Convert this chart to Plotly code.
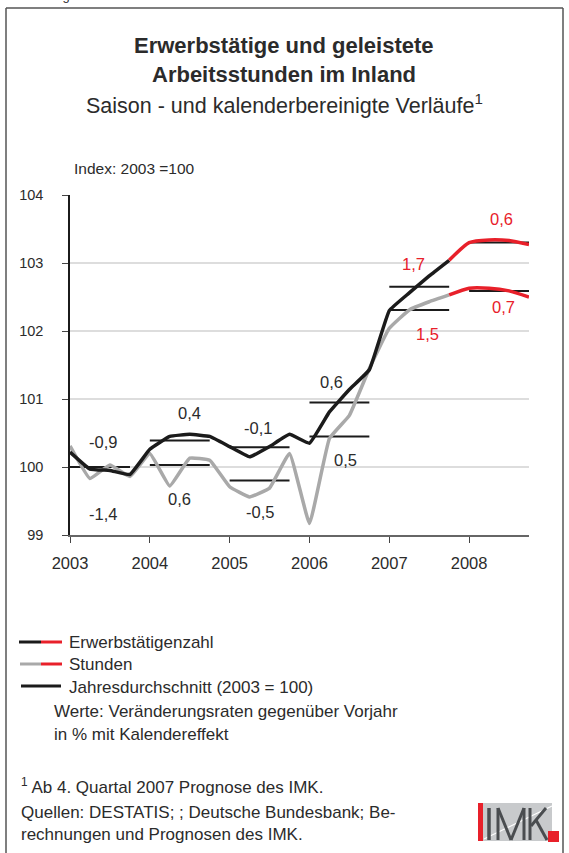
import plotly.graph_objects as go

# ---------------- data ----------------
quarters = ["2003Q1", "2003Q2", "2003Q3", "2003Q4",
            "2004Q1", "2004Q2", "2004Q3", "2004Q4",
            "2005Q1", "2005Q2", "2005Q3", "2005Q4",
            "2006Q1", "2006Q2", "2006Q3", "2006Q4",
            "2007Q1", "2007Q2", "2007Q3", "2007Q4",
            "2008Q1", "2008Q2", "2008Q3", "2008Q4"]
erwerbstaetige = [100.22, 99.97, 99.95, 99.89,
                  100.26, 100.45, 100.48, 100.45,
                  100.30, 100.15, 100.30, 100.48,
                  100.35, 100.81, 101.14, 101.43,
                  102.30, 102.56, 102.81, 103.04,
                  103.30, 103.34, 103.33, 103.27]
stunden = [100.31, 99.83, 100.03, 99.86,
           100.20, 99.72, 100.13, 100.10,
           99.71, 99.56, 99.69, 100.20,
           99.17, 100.42, 100.76, 101.45,
           102.04, 102.31, 102.43, 102.53,
           102.63, 102.63, 102.59, 102.50]
years = [2003, 2004, 2005, 2006, 2007, 2008]
avg_erwerbstaetige = [100.0, 100.39, 100.29, 100.95, 102.65, 103.30]
avg_stunden = [100.0, 100.03, 99.80, 100.45, 102.31, 102.59]
rate_erwerbstaetige = ["-0,9", "0,4", "-0,1", "0,6", "1,7", "0,6"]
rate_stunden = ["-1,4", "0,6", "-0,5", "0,5", "1,5", "0,7"]
forecast_start = "2007Q4"
y_ticks = [99, 100, 101, 102, 103, 104]

# ---------------- styling / layout ----------------
BLACK = "#1b1b1b"
GRAY = "#a9a9a9"
RED = "#e8202a"
TXT = "#2b2b2b"
FONT = "Liberation Sans, Arial, sans-serif"

W, H = 569, 853
PL, PR, PT, PB = 70, 529, 195, 535  # plot area in pixels


def qx(q):
    return int(q[:4]) + (int(q[-1]) - 1) * 0.25


def px(x):
    return (x - PL) / (PR - PL)


def py(y):
    return (PB - y) / (PB - PT)


xs = [qx(q) for q in quarters]
fi = quarters.index(forecast_start)

fig = go.Figure()

# annual averages
for yr, a, b in zip(years, avg_erwerbstaetige, avg_stunden):
    for v in (a, b):
        fig.add_trace(go.Scatter(x=[yr, yr + 0.75], y=[v, v], mode="lines",
                                 line=dict(color=BLACK, width=2),
                                 showlegend=False, hoverinfo="skip", cliponaxis=False))

# series
for vals, col in ((stunden, GRAY), (erwerbstaetige, BLACK)):
    fig.add_trace(go.Scatter(x=xs[:fi + 1], y=vals[:fi + 1], mode="lines",
                             line=dict(color=col, width=3.5, shape="spline", smoothing=0.3),
                             showlegend=False, cliponaxis=False))
    fig.add_trace(go.Scatter(x=xs[fi:], y=vals[fi:], mode="lines",
                             line=dict(color=RED, width=3.5, shape="spline", smoothing=0.6),
                             showlegend=False, cliponaxis=False))

# rate labels (positions relative to each year)
emp_pos = [(0.41, 100.37), (0.5, 100.80), (0.35, 100.57), (0.27, 101.25), (0.30, 102.99), (0.40, 103.64)]
hrs_pos = [(0.41, 99.31), (0.375, 99.53), (0.38, 99.34), (0.45, 100.10), (0.48, 101.96), (0.43, 102.35)]
annotations = []
for i, yr in enumerate(years):
    col = RED if yr >= 2007 else TXT
    for txt, (dx, yv) in ((rate_erwerbstaetige[i], emp_pos[i]), (rate_stunden[i], hrs_pos[i])):
        annotations.append(dict(x=yr + dx, y=yv, xref="x", yref="y", text=txt, showarrow=False,
                                font=dict(family=FONT, size=16.5, color=col)))


def ptext(x, y, text, size, xanchor="left", bold=False, color=TXT):
    if bold:
        text = "<b>" + text + "</b>"
    annotations.append(dict(x=px(x), y=py(y), xref="paper", yref="paper", text=text,
                            showarrow=False, xanchor=xanchor, yanchor="middle",
                            font=dict(family=FONT, size=size, color=color)))


ptext(284, 45, "Erwerbstätige und geleistete", 22, "center", True)
ptext(284, 75, "Arbeitsstunden im Inland", 22, "center", True)
ptext(284, 104, "Saison - und kalenderbereinigte Verläufe<sup>1</sup>", 21.5, "center")
ptext(72, 168, "Index: 2003 =100", 15.5)
ptext(72, -5, "Abbildung", 13, "right")

ptext(67, 642, "Erwerbstätigenzahl", 17)
ptext(67, 664, "Stunden", 17)
ptext(67, 687, "Jahresdurchschnitt (2003 = 100)", 17)
ptext(52, 711, "Werte: Veränderungsraten gegenüber Vorjahr", 17)
ptext(52, 734, "in % mit Kalendereffekt", 17)
ptext(19, 786, "<sup>1</sup> Ab 4. Quartal 2007 Prognose des IMK.", 17)
ptext(19, 812, "Quellen: DESTATIS; ; Deutsche Bundesbank; Be-", 17)
ptext(19, 834, "rechnungen und Prognosen des IMK.", 17)

shapes = []


def pline(x0, y0, x1, y1, color, width):
    shapes.append(dict(type="line", xref="paper", yref="paper", x0=px(x0), y0=py(y0),
                       x1=px(x1), y1=py(y1), line=dict(color=color, width=width), layer="above"))


def prect(x0, y0, x1, y1, color):
    shapes.append(dict(type="rect", xref="paper", yref="paper", x0=px(x0), y0=py(y0),
                       x1=px(x1), y1=py(y1), fillcolor=color, line=dict(width=0), layer="above"))


# frame
pline(6, 8, 563, 8, "#555555", 1.5)
pline(6, 8, 6, 860, "#555555", 1.5)
pline(563, 8, 563, 860, "#555555", 1.5)

# legend samples
pline(19, 642, 41, 642, BLACK, 3)
pline(41, 642, 62, 642, RED, 3)
pline(20, 664, 41, 664, GRAY, 3)
pline(41, 664, 62, 664, RED, 3)
pline(21, 686, 61, 686, BLACK, 3)

# IMK logo (box, accents and letter strokes)
LOGO = "#4a4d50"
prect(478, 803, 552, 841, "#c8cacc")
pline(484, 839, 552, 806, "#ffffff", 1.2)
prect(478, 803, 483, 841, RED)
prect(548, 831, 559, 842, RED)
pline(489, 808, 489, 840, LOGO, 3.5)           # I
pline(498, 808, 498, 840, LOGO, 3)             # M
pline(498, 808, 511, 840, LOGO, 3)
pline(511, 840, 524, 808, LOGO, 3)
pline(524, 808, 524, 840, LOGO, 3)
pline(530, 808, 530, 840, LOGO, 3)             # K
pline(546, 808, 531, 826, LOGO, 3)
pline(536, 820, 547, 840, LOGO, 3)

fig.update_layout(
    width=W, height=H,
    margin=dict(l=PL, r=W - PR, t=PT, b=H - PB),
    paper_bgcolor="white", plot_bgcolor="white",
    showlegend=False,
    font=dict(family=FONT, color=TXT),
    annotations=annotations, shapes=shapes,
    xaxis=dict(range=[2003, 2008.75], tickvals=years, ticktext=[str(y) for y in years],
               showgrid=False, zeroline=False, showline=True, linecolor="#666666", linewidth=1.5,
               ticks="outside", ticklen=6, tickcolor="#444444", tickwidth=1,
               ticklabelstandoff=6,
               tickfont=dict(family=FONT, size=16.5, color=TXT)),
    yaxis=dict(range=[99, 104], tickvals=y_ticks, ticktext=[str(v) for v in y_ticks],
               showgrid=True, gridcolor="#dddddd", gridwidth=1.5, zeroline=False,
               showline=True, linecolor=BLACK, linewidth=1.5,
               ticks="outside", ticklen=6, tickcolor="#444444", tickwidth=1,
               ticklabelstandoff=16,
               tickfont=dict(family=FONT, size=14.5, color=TXT)),
)

fig.write_html("out.html", config={"displayModeBar": False},
               post_script="document.body.style.margin='0';")
